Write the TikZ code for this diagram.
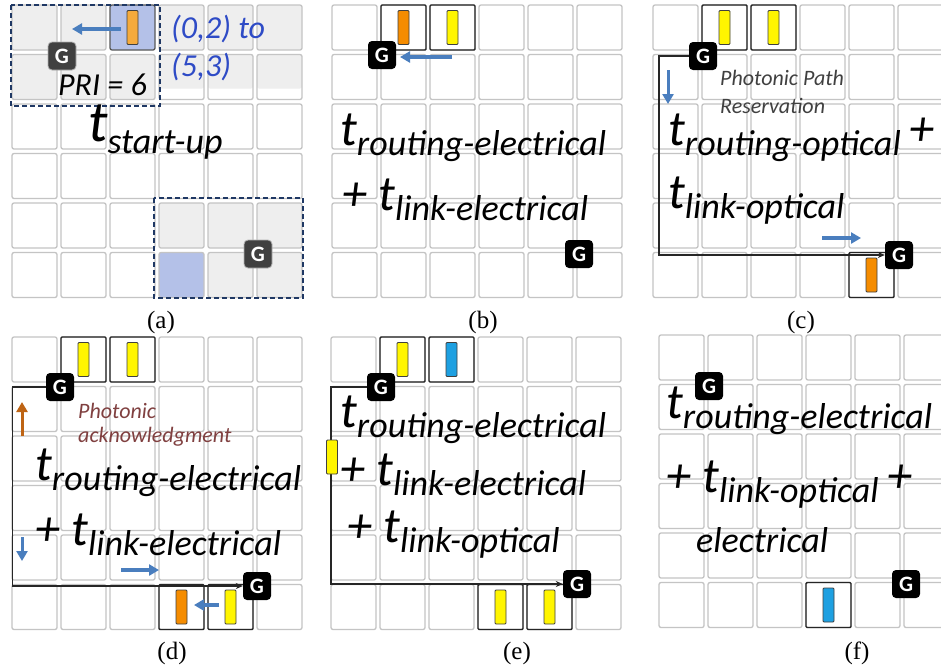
\documentclass[tikz,border=0pt]{standalone}
\usepackage{fontspec}
\setmainfont{Carlito}
\newfontfamily\labfont{Liberation Serif}
\usetikzlibrary{arrows.meta,calc}

\definecolor{cellgray}{RGB}{196,196,196}
\definecolor{lightfill}{RGB}{238,238,238}
\definecolor{selblue}{RGB}{180,193,232}
\definecolor{navy}{RGB}{31,56,100}
\definecolor{arrblue}{RGB}{74,126,190}
\definecolor{arrbrown}{RGB}{190,100,20}
\definecolor{orangeA}{RGB}{245,170,60}
\definecolor{orangeB}{RGB}{245,140,0}
\definecolor{yel}{RGB}{255,245,0}
\definecolor{cyanbar}{RGB}{30,160,225}
\definecolor{txtblue}{RGB}{46,75,198}
\definecolor{ackred}{RGB}{128,64,64}
\definecolor{darkg}{RGB}{64,64,64}

\newcommand{\Tbig}[1]{\raisebox{10pt}{\fontsize{50}{50}\selectfont #1}}
\newcommand{\Tsub}[1]{{\fontsize{36}{36}\selectfont #1}}
\newcommand{\drawgrid}[3]{%
  \foreach \r in {0,...,5}{\foreach \c in {0,...,5}{
    \node[cell] (#1-\r-\c) at ({#2+22.5+\c*49},{#3+22.5+\r*49.5}) {};
  }}}

\begin{document}
\begin{tikzpicture}[x=1pt,y=-1pt,
  cell/.style={draw=cellgray, line width=1.3pt, rounded corners=2pt, fill=white, minimum size=45pt, inner sep=0pt},
  cplain/.style={},
  cgray/.style={fill=lightfill},
  chalf/.style={path picture={\fill[lightfill] (path picture bounding box.north west) rectangle ([yshift=11pt]path picture bounding box.south east);}},
  cblue/.style={fill=selblue},
  cbluedk/.style={fill=selblue, draw=black!65},
  sel/.style={draw=black!85, line width=1.4pt, rounded corners=1pt, fill=none, minimum size=45pt, inner sep=0pt},
  bar/.style={draw=black!75, line width=0.8pt, rounded corners=1pt, minimum width=11pt, minimum height=34pt, inner sep=0pt},
  gbox/.style={fill=black, rounded corners=4pt, minimum size=28pt, inner sep=0pt, text=white, font=\fontsize{22}{22}\selectfont\bfseries},
  arr/.style={draw=arrblue, line width=3.5pt, -{Triangle[length=10pt,width=11pt]}},
  route/.style={draw=black!85, line width=1.5pt, -{Stealth[length=7pt,width=6pt]}},
  eq/.style={anchor=base west, inner sep=0pt, font=\itshape},
  note/.style={anchor=base west, inner sep=0pt, font=\fontsize{22}{22}\selectfont\itshape},
  lab/.style={font=\labfont\fontsize{25}{25}\selectfont, inner sep=0pt}
]
\useasboundingbox (0,0) rectangle (941,667);
\fill[white] (0,0) rectangle (941,667);

% ================= (a) =================
\foreach \r in {0,...,5}{\foreach \c in {0,...,5}{
  \def\st{cplain}
  \ifnum\r<2 \def\st{cgray}\fi
  \ifnum\r=1 \ifnum\c>2 \def\st{chalf}\fi\fi
  \ifnum\r>3 \ifnum\c>2 \def\st{cgray}\fi\fi
  \ifnum\r=0 \ifnum\c=2 \def\st{cbluedk}\fi\fi
  \ifnum\r=5 \ifnum\c=3 \def\st{cblue}\fi\fi
  \node[cell,\st] (a-\r-\c) at ({12+22.5+\c*49},{5+22.5+\r*49.5}) {};
}}
\draw[navy, line width=2pt, dash pattern=on 5pt off 3pt] (11,5) rectangle (160,106);
\draw[navy, line width=2pt, dash pattern=on 5pt off 3pt] (154,198) rectangle (303,298);
\node[bar, fill=orangeA] (a-bar) at (a-0-2) {};
\coordinate (a-as) at (121,29);
\coordinate (a-ae) at (72,29);
\draw[arr] (a-as) -- (a-ae);
\node[gbox, fill=darkg, draw=gray!60, line width=0.8pt] (a-g1) at (62,56) {G};
\node[gbox, fill=darkg, draw=gray!60, line width=0.8pt] (a-g2) at (258,254) {G};
\node[eq, font=\fontsize{32}{32}\selectfont\itshape] (a-pri) at (58,95) {PRI = 6};
\node[eq, text=txtblue, font=\fontsize{32}{32}\selectfont\itshape] (a-to1) at (171,38) {(0,2) to};
\node[eq, text=txtblue, font=\fontsize{32}{32}\selectfont\itshape] (a-to2) at (171,76) {(5,3)};
\node[eq] (a-t) at (88,153) {\raisebox{12pt}{\fontsize{58}{58}\selectfont t}\Tsub{start-up}};
\node[lab] (a-lab) at (161,322) {(a)};

% ================= (b) =================
\drawgrid{b}{332}{5}
\node[sel] (b-s1) at (b-0-1) {};
\node[sel] (b-s2) at (b-0-2) {};
\node[bar, fill=orangeB] (b-bar1) at (b-0-1) {};
\node[bar, fill=yel] (b-bar2) at (b-0-2) {};
\node[gbox] (b-g1) at (382,55) {G};
\node[gbox] (b-g2) at (579,254) {G};
\coordinate (b-as) at (452,57);
\coordinate (b-ae) at (400,57);
\draw[arr] (b-as) -- (b-ae);
\node[eq] (b-t1) at (340,155) {\Tbig{t}\Tsub{routing-electrical}};
\node[eq] (b-t2) at (342,220) {\Tbig{+ t}\Tsub{link-electrical}};
\node[lab] (b-lab) at (483,322) {(b)};

% ================= (c) =================
\drawgrid{c}{653}{5}
\node[sel] (c-s1) at (c-0-1) {};
\node[sel] (c-s2) at (c-0-2) {};
\node[sel] (c-s3) at (c-5-4) {};
\coordinate (c-l) at (659,0);
\node[gbox] (c-g1) at (703,56) {G};
\node[gbox] (c-g2) at (899,255) {G};
\draw[route] (c-g1.west) -- (c-g1.west -| c-l) |- (c-g2.west);
\node[bar, fill=yel] (c-bar1) at (c-0-1) {};
\node[bar, fill=yel] (c-bar2) at (c-0-2) {};
\node[bar, fill=orangeB] (c-bar3) at (c-5-4) {};
\coordinate (c-as1) at (668,70);
\coordinate (c-ae1) at (668,104);
\draw[arr, line width=3pt] (c-as1) -- (c-ae1);
\coordinate (c-as2) at (822,238);
\coordinate (c-ae2) at (861,238);
\draw[arr] (c-as2) -- (c-ae2);
\node[note, text=black!75] (c-n1) at (720,85) {Photonic Path};
\node[note, text=black!75] (c-n2) at (720,113) {Reservation};
\node[eq] (c-t1) at (668,155) {\Tbig{t}\Tsub{routing-optical}\hspace{9pt}\Tbig{+}};
\node[eq] (c-t2) at (668,218) {\Tbig{t}\Tsub{link-optical}};
\node[lab] (c-lab) at (801,322) {(c)};

% ================= (d) =================
\drawgrid{d}{12}{337}
\node[sel] (d-s1) at (d-0-1) {};
\node[sel] (d-s2) at (d-0-2) {};
\node[sel] (d-s3) at (d-5-3) {};
\node[sel] (d-s4) at (d-5-4) {};
\coordinate (d-l) at (12.5,0);
\node[gbox] (d-g1) at (60,387) {G};
\node[gbox] (d-g2) at (257,586) {G};
\draw[route] (d-g1.west) -- (d-g1.west -| d-l) |- (d-g2.west);
\node[bar, fill=yel] (d-bar1) at (d-0-1) {};
\node[bar, fill=yel] (d-bar2) at (d-0-2) {};
\node[bar, fill=orangeB] (d-bar3) at (d-5-3) {};
\node[bar, fill=yel] (d-bar4) at (d-5-4) {};
\coordinate (d-as1) at (22,436);
\coordinate (d-ae1) at (22,402);
\draw[arr, draw=arrbrown, line width=3pt] (d-as1) -- (d-ae1);
\coordinate (d-as2) at (22,537);
\coordinate (d-ae2) at (22,561);
\draw[arr, line width=3pt] (d-as2) -- (d-ae2);
\coordinate (d-as3) at (121,570);
\coordinate (d-ae3) at (159,570);
\draw[arr] (d-as3) -- (d-ae3);
\coordinate (d-as4) at (219,605);
\coordinate (d-ae4) at (194,605);
\draw[arr] (d-as4) -- (d-ae4);
\node[note, text=ackred] (d-n1) at (78,418) {Photonic};
\node[note, text=ackred] (d-n2) at (78,442) {acknowledgment};
\node[eq] (d-t1) at (35,490) {\Tbig{t}\Tsub{routing-electrical}};
\node[eq] (d-t2) at (35,555) {\Tbig{+ t}\Tsub{link-electrical}};
\node[lab] (d-lab) at (172,653) {(d)};

% ================= (e) =================
\drawgrid{e}{331}{337}
\node[sel] (e-s1) at (e-0-1) {};
\node[sel] (e-s2) at (e-0-2) {};
\node[sel] (e-s3) at (e-5-3) {};
\node[sel] (e-s4) at (e-5-4) {};
\coordinate (e-l) at (331,0);
\node[gbox] (e-g1) at (381,387) {G};
\node[gbox] (e-g2) at (577,584) {G};
\draw[route] (e-g1.west) -- (e-g1.west -| e-l) |- (e-g2.west);
\node[bar, fill=yel] (e-bar1) at (e-0-1) {};
\node[bar, fill=cyanbar] (e-bar2) at (e-0-2) {};
\node[bar, fill=yel] (e-bar3) at (e-5-3) {};
\node[bar, fill=yel] (e-bar4) at (e-5-4) {};
\node[bar, fill=yel] (e-bar5) at (332,457) {};
\node[eq] (e-t1) at (340,437) {\Tbig{t}\Tsub{routing-electrical}};
\node[eq] (e-t2) at (340,495) {\Tbig{+ t}\Tsub{link-electrical}};
\node[eq] (e-t3) at (347,552) {\Tbig{+ t}\Tsub{link-optical}};
\node[lab] (e-lab) at (517,653) {(e)};

% ================= (f) =================
\drawgrid{f}{659}{335}
\node[sel] (f-s1) at (f-5-3) {};
\node[bar, fill=cyanbar] (f-bar1) at (f-5-3) {};
\node[gbox] (f-g1) at (709,386) {G};
\node[gbox] (f-g2) at (906,584) {G};
\node[eq] (f-t1) at (666,428) {\Tbig{t}\Tsub{routing-electrical}};
\node[eq] (f-t2) at (666,502) {\Tbig{+ t}\Tsub{link-optical}\hspace{9pt}\Tbig{+}};
\node[eq] (f-t3) at (696,552) {\Tsub{electrical}};
\node[lab] (f-lab) at (857,653) {(f)};
\end{tikzpicture}
\end{document}
